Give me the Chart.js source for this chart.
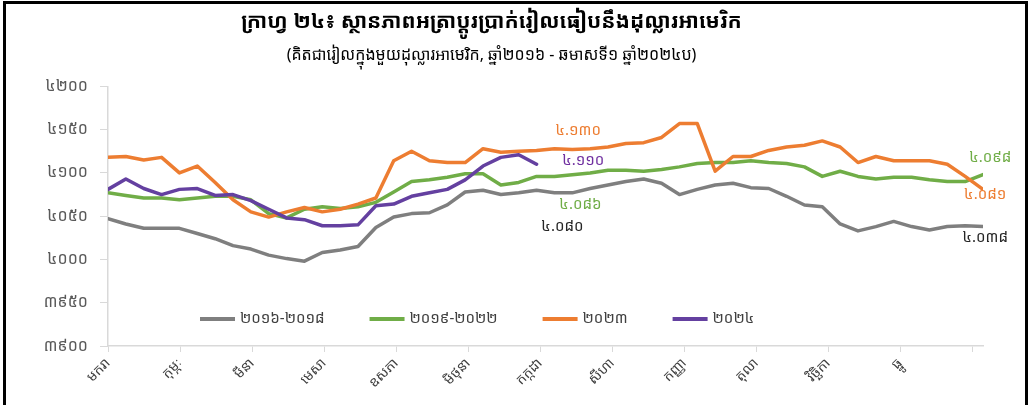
<!DOCTYPE html>
<html>
<head>
<meta charset="utf-8">
<script src="https://cdn.jsdelivr.net/npm/chart.js@4.4.1/dist/chart.umd.min.js"></script>
<style>
  html, body { margin: 0; padding: 0; background: #fff; }
  #wrap { position: relative; width: 1031px; height: 405px; overflow: hidden; }
  #frame { position: absolute; left: 3px; top: 1px; width: 1019px; height: 430px; border: 3px solid #000; pointer-events: none; }
</style>
</head>
<body>
<div id="wrap">
  <canvas id="myChart" width="1031" height="405"></canvas>
  <div id="frame"></div>
</div>
<script>
const khmerFont = "'Noto Sans Khmer', 'Khmer OS System', 'Khmer OS', 'Noto Sans', sans-serif"

const months = ['មករា', 'កុម្ភៈ', 'មីនា', 'មេសា', 'ឧសភា', 'មិថុនា', 'កក្កដា', 'សីហា', 'កញ្ញា', 'តុលា', 'វិច្ឆិកា', 'ធ្នូ']
const yTickLabels = ['៣៩០០', '៣៩៥០', '៤០០០', '៤០៥០', '៤១០០', '៤១៥០', '៤២០០']
const seriesNames = ['២០១៦-២០១៨', '២០១៩-២០២២', '២០២៣', '២០២៤']

// roughly weekly readings, Jan -> Dec
const avg2016_2018 = [4047, 4041, 4036, 4036, 4036, 4030, 4024, 4016, 4012, 4005,
  4001, 3998, 4008, 4011, 4015, 4037, 4049, 4053, 4054, 4063,
  4078, 4080, 4075, 4077, 4080, 4077, 4077, 4082, 4086, 4090,
  4093, 4088, 4075, 4081, 4086, 4088, 4083, 4082, 4073, 4063,
  4061, 4041, 4033, 4038, 4044, 4038, 4034, 4038, 4039, 4038]
const avg2019_2022 = [4077, 4074, 4071, 4071, 4069, 4071, 4073, 4073, 4069, 4053,
  4048, 4058, 4061, 4059, 4061, 4066, 4078, 4090, 4092, 4095,
  4099, 4099, 4086, 4089, 4096, 4096, 4098, 4100, 4103, 4103,
  4102, 4104, 4107, 4111, 4112, 4112, 4114, 4112, 4111, 4107,
  4096, 4102, 4096, 4093, 4095, 4095, 4092, 4090, 4090, 4098]
const y2023 = [4118, 4119, 4115, 4118, 4100, 4108, 4089, 4069, 4055, 4049,
  4055, 4060, 4055, 4058, 4064, 4071, 4114, 4125, 4114, 4112,
  4112, 4128, 4124, 4125, 4126, 4128, 4127, 4128, 4130, 4134,
  4135, 4141, 4157, 4157, 4102, 4119, 4119, 4126, 4130, 4132,
  4137, 4130, 4112, 4119, 4114, 4114, 4114, 4110, 4096, 4081]
const y2024 = [4081, 4093, 4082, 4075, 4081, 4082, 4074, 4075, 4068, 4058,
  4048, 4046, 4039, 4039, 4040, 4062, 4064, 4073, 4077, 4081,
  4092, 4108, 4118, 4121, 4110]

const noteLabels = ['៤.១៣០', '៤.១១០', '៤.០៨៦', '៤.០៨០', '៤.០៩៨', '៤.០៨១', '៤.០៣៨']

const colors = ['#7f7f7f', '#70ad47', '#ed7d31', '#6440a0']
const xMax = 12.15
const xStep = xMax / 49

function toPoints(arr) {
  return arr.map((v, i) => ({ x: i * xStep, y: v }))
}

// where the value notes sit, in axis units (month, riel)
const notePlaces = [
  { x: 6.53, y: 4149, color: '#ed7d31' },
  { x: 6.60, y: 4114, color: '#7030a0' },
  { x: 6.56, y: 4063, color: '#70ad47' },
  { x: 6.31, y: 4038, color: '#262626' },
  { x: 12.25, y: 4118, color: '#70ad47' },
  { x: 12.18, y: 4075, color: '#ed7d31' },
  { x: 12.18, y: 4025, color: '#262626' }
]

const notesPlugin = {
  id: 'notes',
  afterDatasetsDraw(chart) {
    const c = chart.ctx
    const xs = chart.scales.x
    const ys = chart.scales.y
    c.save()
    c.font = '15px ' + khmerFont
    c.textAlign = 'center'
    c.textBaseline = 'middle'
    notePlaces.forEach((p, i) => {
      c.fillStyle = p.color
      c.fillText(noteLabels[i], xs.getPixelForValue(p.x), ys.getPixelForValue(p.y))
    })
    c.restore()
  }
}

const legendPlugin = {
  id: 'innerLegend',
  afterDraw(chart) {
    const c = chart.ctx
    const area = chart.chartArea
    let x = 200
    const y = area.bottom - 27
    c.save()
    c.font = '15px ' + khmerFont
    c.textBaseline = 'middle'
    c.textAlign = 'left'
    seriesNames.forEach((name, i) => {
      c.strokeStyle = colors[i]
      c.lineWidth = 4
      c.beginPath()
      c.moveTo(x, y)
      c.lineTo(x + 35, y)
      c.stroke()
      c.fillStyle = '#404040'
      c.fillText(name, x + 40, y)
      x += 40 + c.measureText(name).width + 45
    })
    c.restore()
  }
}

const ctx = document.getElementById('myChart')

new Chart(ctx, {
  type: 'line',
  data: {
    datasets: [
      { label: seriesNames[0], data: toPoints(avg2016_2018), borderColor: colors[0], order: 3 },
      { label: seriesNames[1], data: toPoints(avg2019_2022), borderColor: colors[1], order: 2 },
      { label: seriesNames[2], data: toPoints(y2023), borderColor: colors[2], order: 1 },
      { label: seriesNames[3], data: toPoints(y2024), borderColor: colors[3], order: 0 }
    ]
  },
  options: {
    responsive: false,
    animation: false,
    elements: {
      line: { borderWidth: 3.5, tension: 0, borderJoinStyle: 'round', borderCapStyle: 'round' },
      point: { radius: 0 }
    },
    layout: { padding: { top: 4, right: 48, left: 0, bottom: 0 } },
    plugins: {
      legend: { display: false },
      tooltip: { enabled: false },
      title: {
        display: true,
        text: 'ក្រាហ្វ ២៤៖ ស្ថានភាពអត្រាប្តូរប្រាក់រៀលធៀបនឹងដុល្លារអាមេរិក',
        color: '#000',
        font: { family: khmerFont, size: 21, weight: 'bold' },
        padding: { top: 5, bottom: 2 }
      },
      subtitle: {
        display: true,
        text: '(គិតជារៀលក្នុងមួយដុល្លារអាមេរិក, ឆ្នាំ២០១៦ - ឆមាសទី១ ឆ្នាំ២០២៤ប)',
        color: '#000',
        font: { family: khmerFont, size: 16 },
        padding: { top: 10, bottom: 21 }
      }
    },
    scales: {
      x: {
        type: 'linear',
        min: 0,
        max: xMax,
        grid: { drawOnChartArea: false, color: '#d9d9d9', tickLength: 6 },
        border: { color: '#d9d9d9', width: 1.5 },
        ticks: {
          stepSize: 1,
          includeBounds: false,
          autoSkip: false,
          minRotation: 45,
          maxRotation: 45,
          color: '#404040',
          font: { family: khmerFont, size: 14 },
          callback: v => months[v] ?? ''
        },
        afterFit: s => { s.height = 59 }
      },
      y: {
        min: 3900,
        max: 4200,
        grid: { drawOnChartArea: false, color: '#d9d9d9', tickLength: 8 },
        border: { color: '#d9d9d9', width: 1.5 },
        ticks: {
          stepSize: 50,
          padding: 12,
          color: '#595959',
          font: { family: khmerFont, size: 16 },
          callback: (v, i) => yTickLabels[i]
        },
        afterFit: s => { s.width = 108 }
      }
    }
  },
  plugins: [notesPlugin, legendPlugin]
})
</script>
</body>
</html>
